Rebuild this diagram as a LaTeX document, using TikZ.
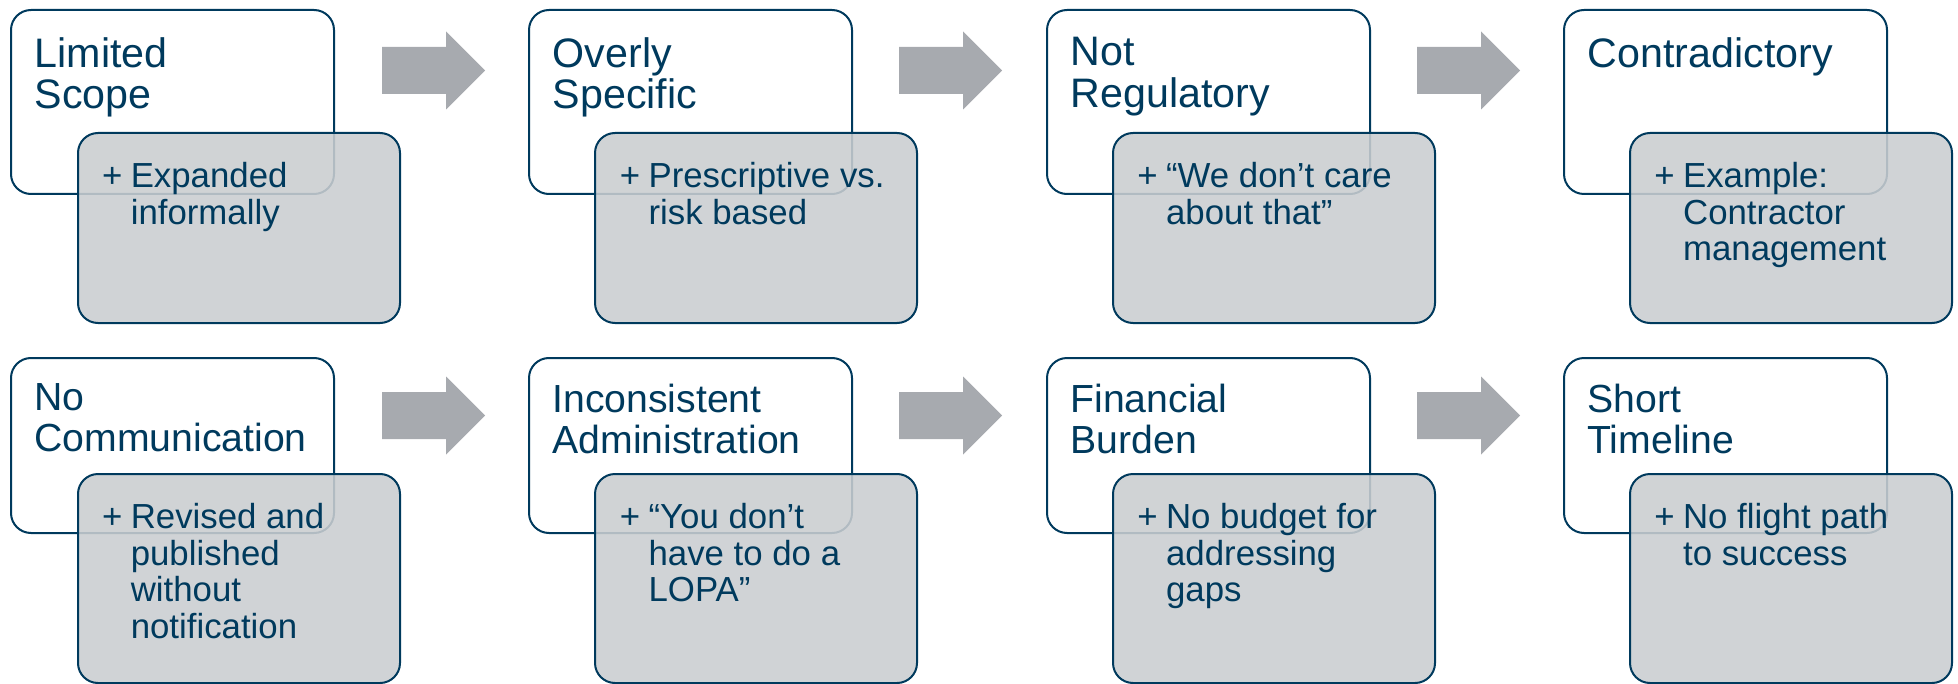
\documentclass[tikz,border=0pt]{standalone}
\usepackage{fontspec}
\setmainfont{Liberation Sans}
\definecolor{navy}{RGB}{0,58,93}
\definecolor{boxgray}{RGB}{202,205,208}
\definecolor{arrowgray}{RGB}{167,170,175}
\tikzset{
  headbox/.style={draw=navy, line width=1pt, rounded corners=10pt, fill=white,
    minimum width=161.5pt, anchor=north west, inner sep=0pt},
  notebox/.style={draw=navy, line width=1pt, rounded corners=10pt, fill=boxgray,
    fill opacity=0.88, minimum width=161pt, anchor=north west, inner sep=0pt},
  headtext/.style={anchor=north west, inner sep=0pt, align=left, text=navy,
    font=\fontsize{20.6}{20.75}\selectfont},
  smallhead/.style={headtext, font=\fontsize{19.6}{20.6}\selectfont},
  notetext/.style={anchor=north west, inner sep=0pt, text=navy,
    font=\fontsize{17.4}{18.25}\selectfont},
  flowarrow/.pic={
    \fill[arrowgray] (0,-23.5) -- (64,-23.5) -- (64,-39) -- (103,0)
      -- (64,39) -- (64,23.5) -- (0,23.5) -- cycle;
  }
}
% "+" and then the lines of the note, hanging
\newcommand{\plusitem}[1]{\makebox[14.35pt][l]{+}\vtop{\halign{##\hfil\cr#1\crcr}}}
\begin{document}
\begin{tikzpicture}[x=0.5pt, y=-0.5pt]
  \useasboundingbox (0,0) rectangle (1958,684);
  % top row
  \node[headbox, minimum height=92pt] (scope) at (10,9) {};
  \node[notebox, minimum height=95pt] (scopenote) at (77,132) {};
  \node[headtext] (scopetitle) at (34.5,37) {Limited\\Scope};
  \node[notetext] (scopetext) at (101.7,162.3) {\plusitem{Expanded\cr informally}};

  \node[headbox, minimum height=92pt] (specific) at (528,9) {};
  \node[notebox, minimum height=95pt] (specificnote) at (594,132) {};
  \node[headtext] (specifictitle) at (552.5,37) {Overly\\Specific};
  \node[notetext] (specifictext) at (619.5,162.3) {\plusitem{Prescriptive vs.\cr risk based}};

  \node[headbox, minimum height=92pt] (regulatory) at (1046,9) {};
  \node[notebox, minimum height=95pt] (regulatorynote) at (1112,132) {};
  \node[headtext] (regulatorytitle) at (1070.5,37) {Not\\Regulatory};
  \node[notetext] (regulatorytext) at (1137,162.3) {\plusitem{“We don’t care\cr about that”}};

  \node[headbox, minimum height=92pt] (contra) at (1563,9) {};
  \node[notebox, minimum height=95pt] (contranote) at (1629,132) {};
  \node[headtext] (contratitle) at (1587.5,37) {Contradictory};
  \node[notetext] (contratext) at (1654,162.3) {\plusitem{Example:\cr Contractor\cr management}};

  % bottom row
  \node[headbox, minimum height=87.5pt] (communication) at (10,357) {};
  \node[notebox, minimum height=104.5pt] (communicationnote) at (77,473) {};
  \node[smallhead] (communicationtitle) at (34,383.3) {No\\Communication};
  \node[notetext] (communicationtext) at (101.7,503.3) {\plusitem{Revised and\cr published\cr without\cr notification}};

  \node[headbox, minimum height=87.5pt] (admin) at (528,357) {};
  \node[notebox, minimum height=104.5pt] (adminnote) at (594,473) {};
  \node[smallhead] (admintitle) at (552,383.3) {Inconsistent\\Administration};
  \node[notetext] (admintext) at (619.5,503.3) {\plusitem{“You don’t\cr have to do a\cr LOPA”}};

  \node[headbox, minimum height=87.5pt] (burden) at (1046,357) {};
  \node[notebox, minimum height=104.5pt] (burdennote) at (1112,473) {};
  \node[smallhead] (burdentitle) at (1070,383.3) {Financial\\Burden};
  \node[notetext] (burdentext) at (1137,503.3) {\plusitem{No budget for\cr addressing\cr gaps}};

  \node[headbox, minimum height=87.5pt] (timeline) at (1563,357) {};
  \node[notebox, minimum height=104.5pt] (timelinenote) at (1629,473) {};
  \node[smallhead] (timelinetitle) at (1587,383.3) {Short\\Timeline};
  \node[notetext] (timelinetext) at (1654,503.3) {\plusitem{No flight path\cr to success}};

  % arrows between the columns
  \pic at (382,70.5) {flowarrow};
  \pic at (899,70.5) {flowarrow};
  \pic at (1417,70.5) {flowarrow};
  \pic at (382,415.5) {flowarrow};
  \pic at (899,415.5) {flowarrow};
  \pic at (1417,415.5) {flowarrow};
\end{tikzpicture}
\end{document}
